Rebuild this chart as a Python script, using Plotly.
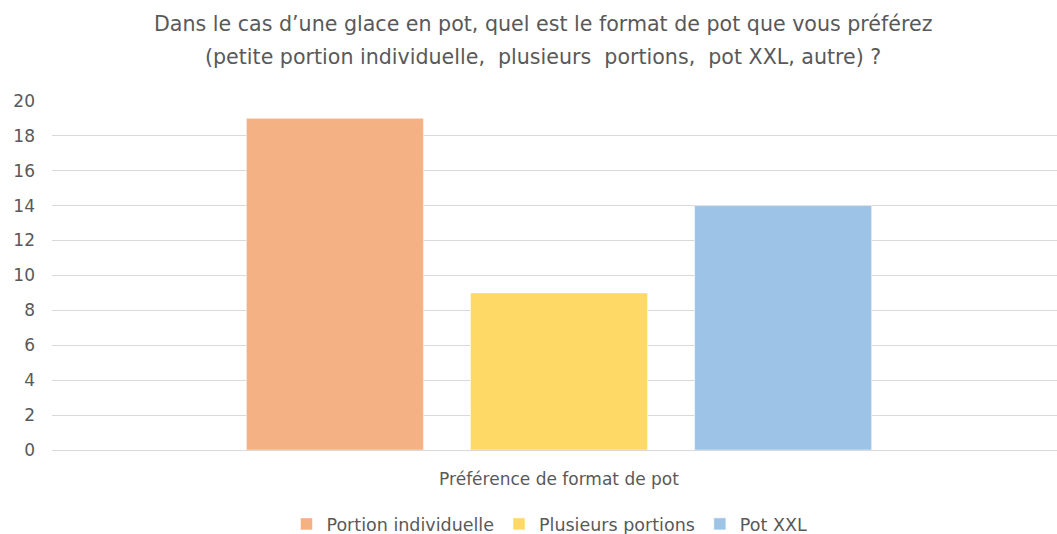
import plotly.graph_objects as go

# Survey result: preferred ice-cream tub format
category = ["Préférence de format de pot"]
series_names = ["Portion individuelle", "Plusieurs portions", "Pot XXL"]
series_values = [19, 9, 14]
series_colors = ["#F4B183", "#FFD966", "#9DC3E6"]

title_lines = [
    "Dans le cas d’une glace en pot, quel est le format de pot que vous préférez",
    "(petite portion individuelle,  plusieurs  portions,  pot XXL, autre) ?",
]
y_ticks = list(range(0, 21, 2))

FONT = "DejaVu Sans"
GREY = "#595959"

fig = go.Figure()
for name, val, col in zip(series_names, series_values, series_colors):
    fig.add_trace(go.Bar(
        x=category, y=[val], name=name,
        marker=dict(color=col, line=dict(color="rgba(255,255,255,0.5)", width=1)),
    ))

for i, line in enumerate(title_lines):
    fig.add_annotation(
        text=line, xref="paper", yref="paper",
        x=0.4887, y=1 + (76 - 33 * i) / 350,
        xanchor="center", yanchor="middle", showarrow=False,
        font=dict(family=FONT, size=20.6, color=GREY),
    )

fig.update_layout(
    width=1057, height=534,
    margin=dict(l=52, r=0, t=100, b=84),
    paper_bgcolor="white", plot_bgcolor="white",
    barmode="group", bargap=0.337, bargroupgap=0.21,
    font=dict(family=FONT, color=GREY),
    showlegend=True,
    legend=dict(
        orientation="h", x=0.495, y=10 / 534, yref="container",
        xanchor="center", yanchor="middle",
        font=dict(family=FONT, size=17.5, color=GREY),
        itemwidth=30, traceorder="normal",
    ),
    xaxis=dict(
        type="category", range=[-0.5, 0.4911],
        showgrid=False, showline=False, ticks="",
        tickfont=dict(family=FONT, size=17, color=GREY),
        ticklabelstandoff=17,
    ),
    yaxis=dict(
        range=[0, 20.05], tickvals=y_ticks,
        showgrid=True, gridcolor="#D9D9D9", gridwidth=1,
        zeroline=True, zerolinecolor="#D9D9D9", zerolinewidth=1,
        showline=False, ticks="",
        tickfont=dict(family=FONT, size=17, color=GREY),
        ticklabelstandoff=16,
    ),
)

fig.write_html("out.html")
